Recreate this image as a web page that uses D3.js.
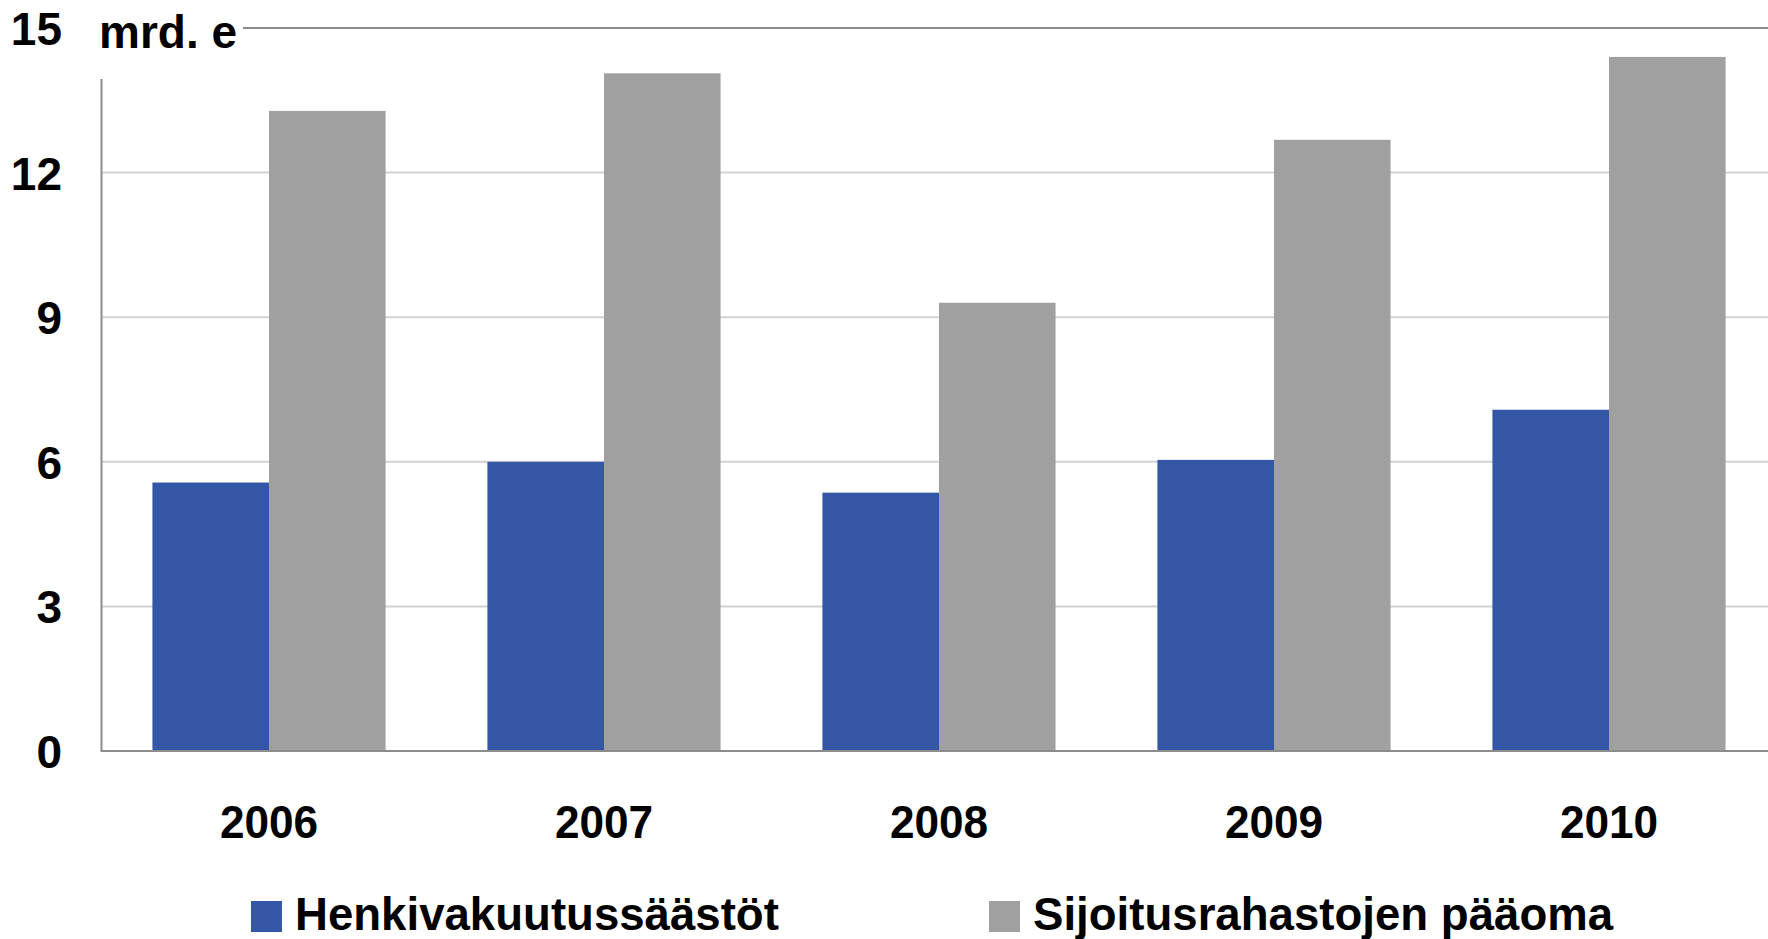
<!DOCTYPE html>
<html>
<head>
<meta charset="utf-8">
<script src="https://cdn.jsdelivr.net/npm/d3@7"></script>
<style>
  body { margin: 0; background: #fff; }
  text { font-family: "Liberation Sans", Arial, sans-serif; font-weight: bold; fill: #000; }
</style>
</head>
<body>
<div class="canvas"></div>
<script>
const svgWidth = 1768;
const svgHeight = 939;

// chart data
const years = ['2006', '2007', '2008', '2009', '2010'];
const seriesNames = ['Henkivakuutussäästöt', 'Sijoitusrahastojen pääoma'];
const lifeInsurance = [5.57, 6.0, 5.36, 6.04, 7.08];
const fundCapital = [13.28, 14.06, 9.30, 12.68, 14.40];
const yTicks = [0, 3, 6, 9, 12, 15];
const unitLabel = 'mrd. e';

const colors = ['#3456a6', '#a0a0a0'];

const svg = d3.select('.canvas')
    .append('svg')
    .attr('width', svgWidth)
    .attr('height', svgHeight);

const plotLeft = 101.5;
const plotTop = 28;
const plotBottom = 751;

// scales
const x = d3.scaleBand()
    .domain(years)
    .range([plotLeft, plotLeft + 5 * 335])
    .paddingInner(0.304)
    .paddingOuter(0.152);

const xInner = d3.scaleBand()
    .domain(seriesNames)
    .range([0, x.bandwidth()]);

const y = d3.scaleLinear()
    .domain([0, 15])
    .range([plotBottom, plotTop]);

// gridlines (light), the 15 line is darker and starts after the unit label
const grid = svg.append('g');
grid.selectAll('line.grid')
    .data(yTicks.filter(t => t > 0 && t < 15))
    .enter().append('line')
    .attr('class', 'grid')
    .attr('x1', plotLeft)
    .attr('x2', svgWidth)
    .attr('y1', d => y(d))
    .attr('y2', d => y(d))
    .attr('stroke', '#d2d2d2')
    .attr('stroke-width', 2);

grid.append('line')
    .attr('x1', 243)
    .attr('x2', svgWidth)
    .attr('y1', y(15))
    .attr('y2', y(15))
    .attr('stroke', '#8c8c8c')
    .attr('stroke-width', 2);

// bars
const table = years.map((yr, i) => ({ year: yr, values: [lifeInsurance[i], fundCapital[i]] }));

const groups = svg.selectAll('.bar-group')
    .data(table)
    .enter().append('g')
    .attr('class', 'bar-group')
    .attr('transform', d => `translate(${x(d.year)}, 0)`);

groups.selectAll('rect')
    .data(d => d.values.map((v, i) => ({ name: seriesNames[i], value: v, idx: i })))
    .enter().append('rect')
    .attr('x', d => xInner(d.name))
    .attr('width', xInner.bandwidth())
    .attr('y', d => y(d.value))
    .attr('height', d => y(0) - y(d.value))
    .attr('fill', d => colors[d.idx]);

// axis lines
svg.append('line')
    .attr('x1', plotLeft).attr('x2', plotLeft)
    .attr('y1', 79).attr('y2', plotBottom)
    .attr('stroke', '#8c8c8c').attr('stroke-width', 2);

svg.append('line')
    .attr('x1', plotLeft - 1).attr('x2', svgWidth)
    .attr('y1', plotBottom).attr('y2', plotBottom)
    .attr('stroke', '#8c8c8c').attr('stroke-width', 2);

// y axis labels
const yAxis = d3.axisLeft(y).tickValues(yTicks).tickSize(0).tickPadding(0);
const yAxisGroup = svg.append('g')
    .attr('transform', 'translate(62, 0)')
    .call(yAxis);
yAxisGroup.select('.domain').remove();
yAxisGroup.selectAll('text')
    .attr('font-size', 46)
    .attr('font-family', null)
    .attr('dy', '0.36em');

// unit label
svg.append('text')
    .attr('x', 99)
    .attr('y', 48)
    .attr('font-size', 46)
    .text(unitLabel);

// x axis labels (slightly condensed like the original)
const xAxis = d3.axisBottom(x).tickSize(0).tickPadding(0);
const xAxisGroup = svg.append('g')
    .attr('transform', `translate(0, 838)`)
    .call(xAxis);
xAxisGroup.select('.domain').remove();
xAxisGroup.selectAll('text')
    .attr('font-size', 46)
    .attr('font-family', null)
    .attr('dy', 0)
    .attr('y', 0)
    .attr('transform', 'scale(0.96,1)');

// legend
const legendX = [251, 989];
const legend = svg.selectAll('.legend-item')
    .data(seriesNames)
    .enter().append('g')
    .attr('class', 'legend-item')
    .attr('transform', (d, i) => `translate(${legendX[i]}, 0)`);

legend.append('rect')
    .attr('x', 0)
    .attr('y', 901)
    .attr('width', 31)
    .attr('height', 31)
    .attr('fill', (d, i) => colors[i]);

legend.append('text')
    .attr('transform', 'translate(44, 930) scale(0.97,1)')
    .attr('font-size', 47)
    .text(d => d);
</script>
</body>
</html>
